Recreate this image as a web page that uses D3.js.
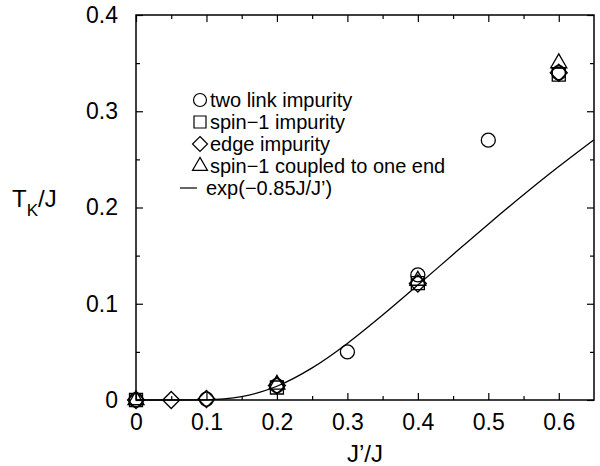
<!DOCTYPE html>
<html><head><meta charset="utf-8">
<script src="https://d3js.org/d3.v7.min.js"></script>
<style>body{margin:0;background:#fff}svg{display:block}</style>
</head><body><svg id="c" width="600" height="466"></svg>
<script>
// Data
const twoLinkX = [0, 0.1, 0.2, 0.3, 0.4, 0.5, 0.6];
const twoLinkY = [0, 0.001, 0.015, 0.050, 0.130, 0.270, 0.340];
const spin1X = [0, 0.2, 0.4, 0.6];
const spin1Y = [0, 0.013, 0.1215, 0.338];
const edgeX = [0, 0.05, 0.1, 0.2, 0.4, 0.6];
const edgeY = [0, 0, 0.001, 0.015, 0.121, 0.340];
const endX = [0, 0.2, 0.4, 0.6];
const endY = [0, 0.016, 0.124, 0.350];
const fitX = [0, 0.05, 0.1, 0.125, 0.15, 0.175, 0.2, 0.25, 0.3, 0.35, 0.4, 0.45, 0.5, 0.55, 0.6, 0.65];
const fitY = [0, 0, 0.0002, 0.0011, 0.0035, 0.0078, 0.0143, 0.0334, 0.0588, 0.0882, 0.1194, 0.1512, 0.1827, 0.2132, 0.2425, 0.2704];
const xTicks = [0, 0.1, 0.2, 0.3, 0.4, 0.5, 0.6];
const yTicks = [0, 0.1, 0.2, 0.3, 0.4];
const legendLabels = ["two link impurity", "spin\u22121 impurity", "edge impurity", "spin\u22121 coupled to one end", "exp(\u22120.85J/J\u2019)"];

const FONT = '"Liberation Sans"';
const svg = d3.select("#c");
const L = 136, R = 594, T = 15, B = 400;
const x = d3.scaleLinear().domain([0, 0.65]).range([L, R]);
const y = d3.scaleLinear().domain([0, 0.4]).range([B, T]);
const minorX = d3.range(0.05, 0.65, 0.1);
const minorY = d3.range(0.05, 0.4, 0.1);

const g = svg.append("g");
g.append("rect").attr("x", L).attr("y", T).attr("width", R - L).attr("height", B - T)
  .attr("fill", "none").attr("stroke", "#000").attr("stroke-width", 1.5);

const fmt = d => d === 0 ? "0" : d3.format(".1f")(d);
g.append("g").attr("transform", `translate(0,${B})`)
  .call(d3.axisBottom(x).tickValues(xTicks).tickFormat(fmt).tickSize(-7).tickPadding(14));
g.append("g").attr("transform", `translate(${L},0)`)
  .call(d3.axisLeft(y).tickValues(yTicks).tickFormat(fmt).tickSize(-7).tickPadding(18));
g.append("g").attr("transform", `translate(0,${T})`)
  .call(d3.axisTop(x).tickValues(xTicks).tickFormat("").tickSize(-7));
g.append("g").attr("transform", `translate(${R},0)`)
  .call(d3.axisRight(y).tickValues(yTicks).tickFormat("").tickSize(-7));
g.append("g").attr("transform", `translate(0,${B})`).call(d3.axisBottom(x).tickValues(minorX).tickFormat("").tickSize(-4));
g.append("g").attr("transform", `translate(0,${T})`).call(d3.axisTop(x).tickValues(minorX).tickFormat("").tickSize(-4));
g.append("g").attr("transform", `translate(${L},0)`).call(d3.axisLeft(y).tickValues(minorY).tickFormat("").tickSize(-4));
g.append("g").attr("transform", `translate(${R},0)`).call(d3.axisRight(y).tickValues(minorY).tickFormat("").tickSize(-4));
g.selectAll(".domain").remove();
g.selectAll(".tick line").attr("stroke", "#000").attr("stroke-width", 1.2);
g.selectAll(".tick text").attr("font-size", 23).attr("fill", "#000");

// axis titles
svg.append("text").attr("x", 365).attr("y", 462).attr("text-anchor", "middle").attr("font-size", 24).text("J\u2019/J");
const yt = svg.append("text").attr("x", 12).attr("y", 207).attr("font-size", 24);
yt.append("tspan").text("T");
yt.append("tspan").attr("font-size", 17).attr("dy", 9).text("K");
yt.append("tspan").attr("dy", -9).text("/J");

// fit line
const line = d3.line().x((d, i) => x(fitX[i])).y((d, i) => y(fitY[i])).curve(d3.curveMonotoneX);
svg.append("path").datum(fitY).attr("d", line).attr("fill", "none").attr("stroke", "#000").attr("stroke-width", 1.3);

// symbols
function trianglePath(s) {
  const h = s * Math.sqrt(3) / 2;
  return `M0,${-h * 2 / 3}L${s / 2},${h / 3}L${-s / 2},${h / 3}Z`;
}
function diamondPath(r) { return `M0,${-r}L${r},0L0,${r}L${-r},0Z`; }
function squarePath(s) { return `M${-s/2},${-s/2}h${s}v${s}h${-s}Z`; }
const circlePath = r => d3.symbol().type(d3.symbolCircle).size(Math.PI * r * r)();
const shapes = {
  circle: () => circlePath(7),
  square: () => squarePath(13),
  diamond: () => diamondPath(8.5),
  triangle: () => trianglePath(16)
};
function plot(xs, ys, shape) {
  svg.append("g").selectAll("path").data(ys).join("path")
    .attr("transform", (d, i) => `translate(${x(xs[i])},${y(d)})`)
    .attr("d", shapes[shape]).attr("fill", "none").attr("stroke", "#000").attr("stroke-width", 1.3);
}
plot(twoLinkX, twoLinkY, "circle");
plot(spin1X, spin1Y, "square");
plot(edgeX, edgeY, "diamond");
plot(endX, endY, "triangle");

// legend
const legShapes = [() => circlePath(6.5), () => squarePath(12), () => diamondPath(7.5), () => trianglePath(15)];
const leg = svg.append("g");
legendLabels.forEach((t, i) => {
  const cy = 100 + i * 22;
  if (i < 4) {
    leg.append("path").attr("transform", `translate(200,${cy})`).attr("d", legShapes[i]())
      .attr("fill", "none").attr("stroke", "#000").attr("stroke-width", 1.2);
  } else {
    leg.append("line").attr("x1", 180).attr("x2", 197).attr("y1", cy).attr("y2", cy).attr("stroke", "#000").attr("stroke-width", 1.2);
  }
  leg.append("text").attr("x", i < 4 ? 210 : 206).attr("y", cy + 7).attr("font-size", 20).text(t);
});

svg.selectAll("text").style("font-family", FONT).attr("fill", "#000");
</script></body></html>
